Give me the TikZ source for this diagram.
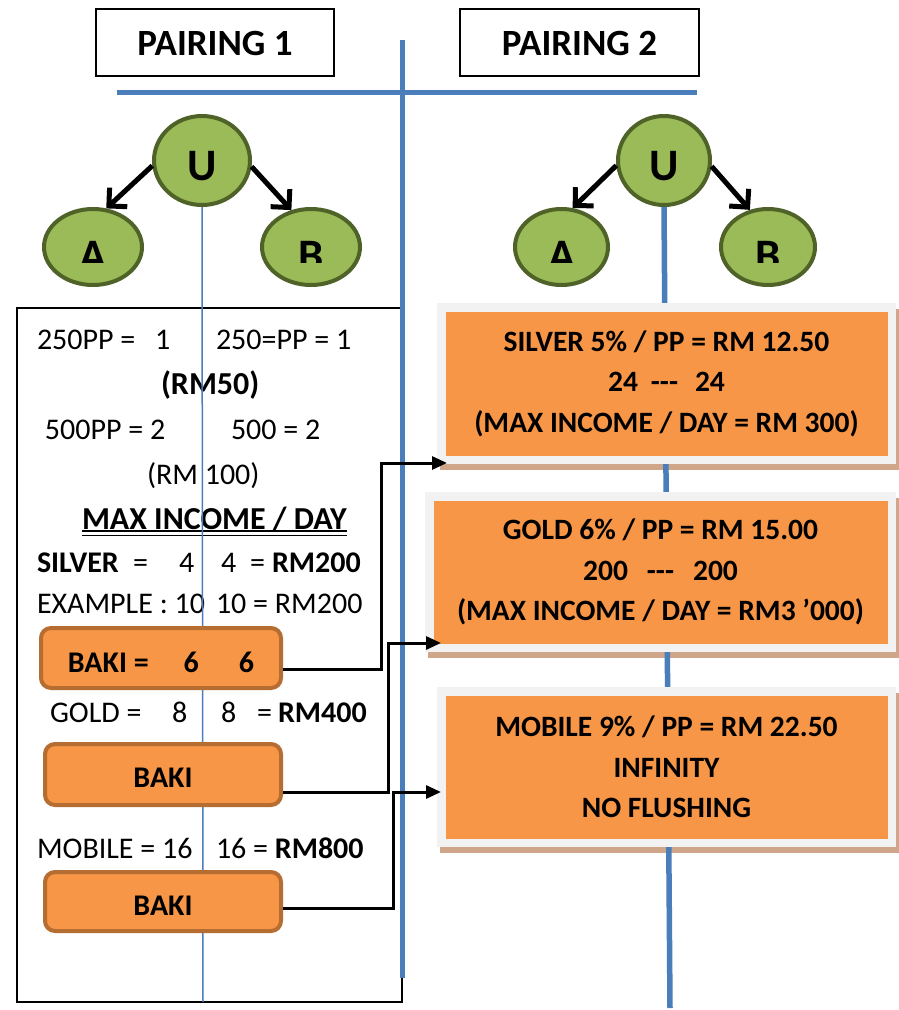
\documentclass[tikz,border=0pt]{standalone}
\usepackage{fontspec}
\setmainfont{Carlito}
\usetikzlibrary{arrows.meta,shapes.geometric,calc}
\pgfdeclarelayer{background}
\pgfsetlayers{background,main}
\definecolor{bluel}{HTML}{4A7EBB}
\definecolor{greenf}{HTML}{9BBB59}
\definecolor{greend}{HTML}{4F6228}
\definecolor{orangef}{HTML}{F79646}
\definecolor{oranged}{HTML}{B66D31}
\definecolor{framec}{HTML}{F2F2F2}
\definecolor{shad}{HTML}{D0A68A}
\begin{document}
\begin{tikzpicture}[x=1pt,y=-1pt,
  txt/.style={inner sep=0pt, outer sep=0pt, anchor=base west, font=\fontsize{30}{36}\selectfont},
  btxt/.style={inner sep=0pt, outer sep=0pt, anchor=base west, font=\fontsize{30}{36}\selectfont\bfseries},
  bigbtxt/.style={inner sep=0pt, outer sep=0pt, anchor=base west, font=\fontsize{32}{38}\selectfont\bfseries},
  titlebox/.style={draw=black, line width=1.4pt, minimum height=67pt, inner sep=0pt, text height=25pt, text depth=0pt, font=\fontsize{37}{42}\selectfont\bfseries},
  circ/.style={ellipse, draw=greend, fill=greenf, line width=4pt, inner sep=0pt, font=\fontsize{45}{50}\selectfont\bfseries},
  letter/.style={inner sep=0pt, anchor=base, font=\fontsize{45}{50}\selectfont\bfseries},
  bakibox/.style={draw=oranged, fill=orangef, line width=4pt, rounded corners=10pt, inner sep=0pt, font=\fontsize{30}{36}\selectfont\bfseries},
  obox/.style={draw=framec, fill=orangef, line width=8.5pt, outer sep=0pt, inner sep=0pt, align=center, font=\fontsize{29.5}{40.5}\selectfont\bfseries},
  bluethick/.style={draw=bluel, line width=5pt},
  bluethin/.style={draw=bluel, line width=1.5pt},
  uarrow/.style={draw=black, line width=5pt, -{Straight Barb[length=13pt,width=26pt]}},
  conn/.style={draw=black, line width=3pt, -{Triangle[length=15pt,width=13pt]}}
]
\useasboundingbox (0,0) rectangle (899,1010);
\begin{pgfonlayer}{background}
  \fill[white] (0,0) rectangle (899,1010);
\end{pgfonlayer}

% titles
\node[titlebox, minimum width=238pt] (p1) at (215,42.5) {PAIRING 1};
\node[titlebox, minimum width=239pt] (p2) at (579.5,42.5) {PAIRING 2};

% left panel frame
\coordinate (lbA) at (17,308);
\coordinate (lbB) at (402,1002);
\draw[black, line width=1.5pt] (lbA) rectangle (lbB);

% blue separators
\coordinate (hl) at (117,92);
\coordinate (hr) at (697,92);
\coordinate (vt) at (402,40);
\coordinate (vb) at (402,978);
\draw[bluethick] (hl) -- (hr);
\draw[bluethick] (vt) -- (vb);

% trees
\node[circ, minimum width=96pt, minimum height=89pt, text height=39pt, text depth=0pt] (u1) at (202,160.5) {U};
\node[circ, minimum width=98pt, minimum height=76pt] (a1) at (93,247) {};
\node[circ, minimum width=98pt, minimum height=76pt] (b1) at (311,247) {};
\node[circ, minimum width=92pt, minimum height=89pt, text height=39pt, text depth=0pt] (u2) at (664,160.5) {U};
\node[circ, minimum width=93pt, minimum height=76pt] (a2) at (561.5,247) {};
\node[circ, minimum width=94pt, minimum height=76pt] (b2) at (768,247) {};
\begin{scope}
  \clip (30,200) rectangle (830,262);
  \node[letter] (la1) at (93,270) {A};
  \node[letter] (lb1) at (311,270) {B};
  \node[letter] (la2) at (562,270) {A};
  \node[letter] (lb2) at (768,270) {B};
\end{scope}
\draw[uarrow] (u1.186) -- (a1.71);
\draw[uarrow] (u1.353.5) -- (b1.118);
\draw[uarrow] (u2.186.8) -- (a2.74);
\draw[uarrow] (u2.353) -- (b2.116);

% left texts
\node[txt] (t1) at (37,349) {250PP =};
\node[txt] (t2) at (155,349) {1};
\node[txt] (t3) at (216,349) {250=PP = 1};
\node[bigbtxt] (t4) at (161,394) {(RM50)};
\node[txt] (t5) at (45,439) {500PP = 2};
\node[txt] (t6) at (231,439) {500 = 2};
\node[txt] (t7) at (147,484) {(RM 100)};
\node[bigbtxt] (mx) at (82,529) {MAX INCOME / DAY};
\draw[black, line width=1.3pt] ($(mx.base west)+(0,2)$) -- ($(mx.base east)+(0,2)$);
\draw[black, line width=1.3pt] ($(mx.base west)+(0,6.5)$) -- ($(mx.base east)+(0,6.5)$);
\node[btxt] (sv) at (37,572) {SILVER};
\node[txt] (sv1) at (133,572) {=};
\node[txt] (sv2) at (179,572) {4};
\node[txt] (sv3) at (221,572) {4};
\node[txt] (sv4) at (250,572) {=};
\node[btxt] (sv5) at (272,572) {RM200};
\node[txt] (ex1) at (37,613) {EXAMPLE : 10};
\node[txt] (ex2) at (216,613) {10 = RM200};
\node[txt] (g1) at (50,722) {GOLD =};
\node[txt] (g2) at (172,722) {8};
\node[txt] (g3) at (221,722) {8};
\node[txt] (g4) at (257,722) {=};
\node[btxt] (g5) at (278,722) {RM400};
\node[txt] (m1) at (37,858) {MOBILE = 16};
\node[txt] (m2) at (216,858) {16 = \textbf{RM800}};

% thin centre line of left panel
\coordinate (lend) at (203,1002);
\draw[bluethin] (u1.south) -- (lend);

% BAKI boxes
\node[bakibox, minimum width=240pt, minimum height=60pt, text height=28pt, text depth=0pt] (k1) at (161,658) {BAKI =\hspace{35pt}6\hspace{40pt}6\hspace{7pt}};
\node[bakibox, minimum width=236pt, minimum height=61pt, text height=25pt, text depth=0pt] (k2) at (163,774.5) {BAKI};
\node[bakibox, minimum width=236pt, minimum height=59pt, text height=27pt, text depth=0pt] (k3) at (163,901.5) {BAKI};

% right centre line
\coordinate (rend) at (670,1008);
\draw[bluethick, line width=5.5pt] (u2.south) -- (rend);

% right boxes
\node[obox, minimum width=450.5pt, minimum height=152.5pt] (s1) at (666.5,383.5)
  {SILVER 5\% / PP = RM 12.50\\24\hspace{13pt}{-}{-}{-}\hspace{17pt}24\\(MAX INCOME / DAY = RM 300)};
\node[obox, minimum width=462.5pt, minimum height=151.5pt] (s2) at (660.5,572)
  {GOLD 6\% / PP = RM 15.00\\200\hspace{19pt}{-}{-}{-}\hspace{19pt}200\\(MAX INCOME / DAY = RM3 ’000)};
\node[obox, minimum width=450.5pt, minimum height=151.5pt] (s3) at (666.5,767)
  {MOBILE 9\% / PP = RM 22.50\\INFINITY\\NO FLUSHING};
\begin{pgfonlayer}{background}
  \foreach \b in {s1,s2,s3}{
    \fill[shad] ($(\b.north west)+(-1.25,1.75)$) rectangle ($(\b.south east)+(7.25,10.25)$);
  }
\end{pgfonlayer}

% connectors
\coordinate (e1) at (447,463);
\coordinate (e2) at (441,643);
\coordinate (e3) at (441,792);
\draw[conn] ([yshift=-11pt]k1.east) -- ++(98,0) |- (e1);
\draw[conn] ([yshift=-17.5pt]k2.east) -- ++(105,0) |- (e2);
\draw[conn] ([yshift=-6.5pt]k3.east) -- ++(110,0) |- (e3);
\end{tikzpicture}
\end{document}
